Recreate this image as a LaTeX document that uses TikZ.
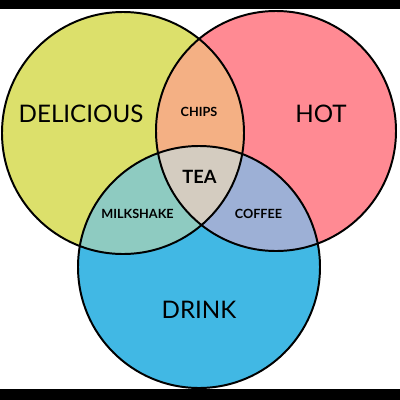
\documentclass[tikz,border=0pt]{standalone}
\usepackage{fontspec}
\setmainfont{Lato}
\definecolor{cyel}{HTML}{DCE06B}
\definecolor{cpink}{HTML}{FF8A93}
\definecolor{cblue}{HTML}{41B8E4}
\definecolor{corange}{HTML}{F4B084}
\definecolor{cgray}{HTML}{D4CCC0}
\definecolor{cteal}{HTML}{8ECBC1}
\definecolor{clav}{HTML}{9DB0D6}
\begin{document}
\begin{tikzpicture}[x=0.25mm,y=-0.25mm,
  ring/.style={draw=black,line width=1.4pt},
  big/.style={inner sep=0pt,font=\fontsize{17.2}{19}\selectfont},
  small/.style={inner sep=0pt,font=\bfseries\fontsize{9}{10}\selectfont}]
\useasboundingbox (0,0) rectangle (400,400);
\fill[white] (0,0) rectangle (400,400);
\fill[black] (0,0) rectangle (400,9);
\fill[black] (0,388.5) rectangle (400,400);
\def\cA{(123,133) circle (121)}
\def\cB{(276,131) circle (120)}
\def\cC{(199,267) circle (121)}
\fill[cyel] \cA;
\fill[cpink] \cB;
\fill[cblue] \cC;
\begin{scope}\clip \cA; \fill[corange] \cB; \fill[cteal] \cC; \end{scope}
\begin{scope}\clip \cB; \fill[clav] \cC; \end{scope}
\begin{scope}\clip \cA; \clip \cB; \fill[cgray] \cC; \end{scope}
\draw[ring] \cA;
\draw[ring] \cB;
\draw[ring] \cC;
\node[big] (del) at (81,114) {DELICIOUS};
\node[big] (hot) at (321,114) {HOT};
\node[big] (drk) at (199,310) {DRINK};
\node[small] (chp) at (199,111.5) {CHIPS};
\node[inner sep=0pt,font=\bfseries\fontsize{13}{14}\selectfont] (tea) at (199.5,176.5) {TEA};
\node[small] (mlk) at (137.5,213.5) {MILKSHAKE};
\node[small] (cof) at (258.5,213.5) {COFFEE};
\end{tikzpicture}
\end{document}
